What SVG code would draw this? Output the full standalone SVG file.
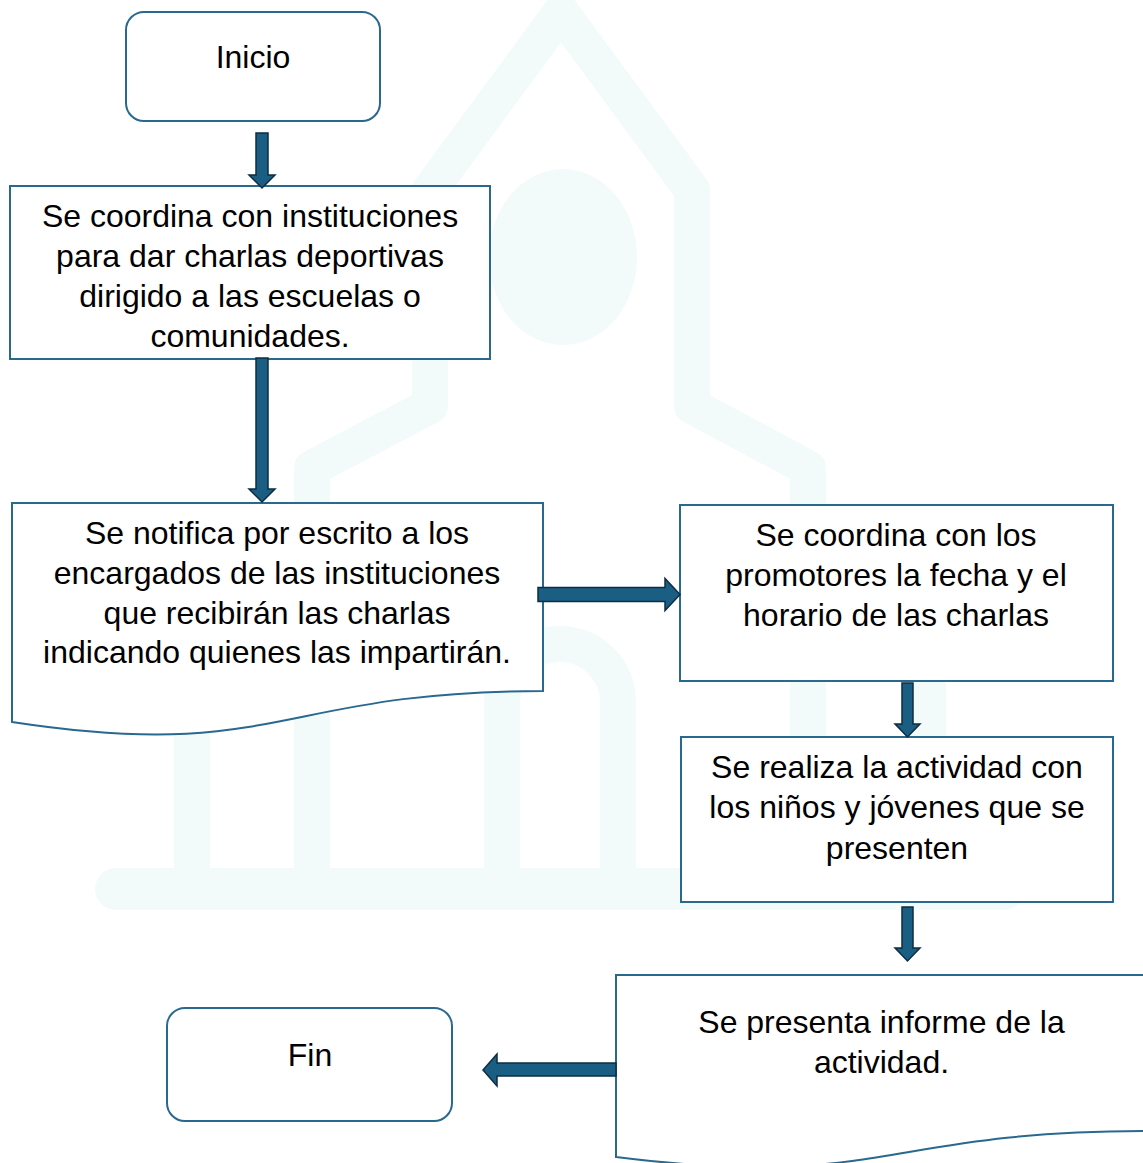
<svg xmlns="http://www.w3.org/2000/svg" width="1143" height="1163" viewBox="0 0 1143 1163">
<style>
.wm{fill:none;stroke:#f3fbfa;stroke-width:36;stroke-linejoin:round}
.wmf{fill:#f3fbfa}
.box{fill:#ffffff;stroke:#29688f;stroke-width:2}
.arr{fill:#1b5e84;stroke:#0e2d40;stroke-width:1.5;stroke-linejoin:miter}
text{font-family:"Liberation Sans",Arial,sans-serif;font-size:32px;fill:#000000;text-anchor:middle}
</style>
<rect width="1143" height="1163" fill="#ffffff"/>
<g id="watermark">
<path class="wm" d="M312,880 V468 L430,406 V190 L561,12 L692,190 V406 L808,468 V880"/>
<path class="wm" d="M192,880 V540 M928,880 V540"/>
<path class="wm" d="M502,880 V702 A58,58 0 0 1 618,702 V880"/>
<ellipse class="wmf" cx="563" cy="257" rx="74" ry="88"/>
<rect class="wmf" x="95" y="868" width="930" height="42" rx="21"/>
</g>
<g id="inicio">
<rect class="box" x="126" y="12" width="254" height="109" rx="18"/>
<text x="253" y="68">Inicio</text>
</g>
<g id="coordina-instituciones">
<rect class="box" x="10" y="186" width="480" height="173"/>
<text x="250" y="227">Se coordina con instituciones</text>
<text x="250" y="267">para dar charlas deportivas</text>
<text x="250" y="307">dirigido a las escuelas o</text>
<text x="250" y="347">comunidades.</text>
</g>
<g id="notifica">
<path class="box" d="M12,503 H543 V691 C277.5,691 277.5,762.7 12,722 Z"/>
<text x="277" y="544">Se notifica por escrito a los</text>
<text x="277" y="584">encargados de las instituciones</text>
<text x="277" y="624">que recibirán las charlas</text>
<text x="277" y="663">indicando quienes las impartirán.</text>
</g>
<g id="coordina-promotores">
<rect class="box" x="680" y="505" width="433" height="176"/>
<text x="896" y="546">Se coordina con los</text>
<text x="896" y="586">promotores la fecha y el</text>
<text x="896" y="626">horario de las charlas</text>
</g>
<g id="actividad">
<rect class="box" x="681" y="737" width="432" height="165"/>
<text x="897" y="778">Se realiza la actividad con</text>
<text x="897" y="818">los niños y jóvenes que se</text>
<text x="897" y="859">presenten</text>
</g>
<g id="informe">
<path class="box" d="M616,975 H1147 V1131 C881.5,1131 881.5,1190.4 616,1157 Z"/>
<text x="881.5" y="1033">Se presenta informe de la</text>
<text x="881.5" y="1073">actividad.</text>
</g>
<g id="fin">
<rect class="box" x="167" y="1008" width="285" height="113" rx="18"/>
<text x="310" y="1066">Fin</text>
</g>
<g id="connectors">
<path class="arr" d="M256,133 H268 V175 H275 L262,188 L249,175 H256 Z"/>
<path class="arr" d="M256,358 H268 V489 H275 L262,502 L249,489 H256 Z"/>
<path class="arr" d="M538,587.5 H665 V578.5 L680,594.5 L665,610.5 V601.5 H538 Z"/>
<path class="arr" d="M902,683 H913 V724 H920 L907.5,737 L895,724 H902 Z"/>
<path class="arr" d="M902,907 H913 V948 H920 L907.5,961 L895,948 H902 Z"/>
<path class="arr" d="M616,1063 H497 V1054 L483,1070 L497,1086 V1076 H616 Z"/>
</g>
</svg>
